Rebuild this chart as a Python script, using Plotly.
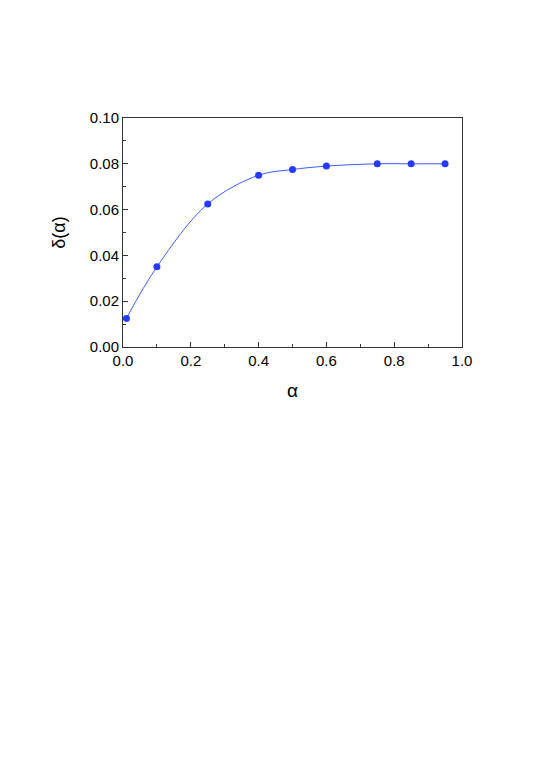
import plotly.graph_objects as go

# data
alpha = [0.01, 0.1, 0.25, 0.4, 0.5, 0.6, 0.75, 0.85, 0.95]
delta = [0.0125, 0.035, 0.0625, 0.075, 0.0775, 0.079, 0.080, 0.080, 0.080]

x_ticks = [0.0, 0.2, 0.4, 0.6, 0.8, 1.0]
y_ticks = [0.00, 0.02, 0.04, 0.06, 0.08, 0.10]

fig = go.Figure()

fig.add_trace(go.Scatter(
    x=alpha, y=delta, mode='lines+markers',
    line=dict(color='#3d5bff', width=1, shape='spline', smoothing=1.0),
    marker=dict(color='#2639ff', size=7),
    showlegend=False,
))

axis_common = dict(
    showgrid=False, zeroline=False,
    showline=True, linecolor='#333333', linewidth=1, mirror=True,
    ticks='inside', ticklen=5, tickwidth=1, tickcolor='#333333',
    tickfont=dict(family='Liberation Sans, Arial', size=15, color='black'),
)

fig.update_xaxes(
    range=[0, 1], tickvals=x_ticks, ticktext=[f'{v:.1f}' for v in x_ticks],
    minor=dict(ticks='inside', ticklen=3, dtick=0.1, tickcolor='#333333'),
    title=dict(text='α', font=dict(family='Liberation Sans, Arial', size=19, color='black'), standoff=15),
    **axis_common,
)
fig.update_yaxes(
    range=[0, 0.1], tickvals=y_ticks, ticktext=[f'{v:.2f}' for v in y_ticks],
    minor=dict(ticks='inside', ticklen=3, dtick=0.01, tickcolor='#333333'),
    title=dict(text='δ(α)', font=dict(family='Liberation Sans, Arial', size=18, color='black'), standoff=19),
    **axis_common,
)

# the page body adds an 8px offset, so margins are trimmed to compensate
fig.update_layout(
    width=545, height=771,
    margin=dict(l=115, r=91, t=110, b=432),
    plot_bgcolor='white', paper_bgcolor='white',
)

fig.write_html("out.html")
